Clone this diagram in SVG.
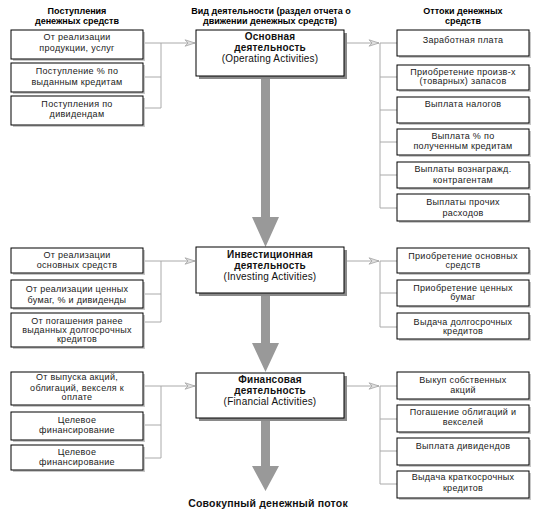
<svg xmlns="http://www.w3.org/2000/svg" width="537" height="512" viewBox="0 0 537 512">
<style>
.t{font-family:"Liberation Sans",Arial,sans-serif;font-size:9px;letter-spacing:0.3px;fill:#1a1a1a;text-anchor:middle}
.h{font-family:"Liberation Sans",Arial,sans-serif;font-size:9px;font-weight:bold;fill:#000;text-anchor:middle}
.c{font-family:"Liberation Sans",Arial,sans-serif;font-size:10px;letter-spacing:0.2px;fill:#111;text-anchor:middle}
.cb{font-weight:bold}
.box{fill:#fff;stroke:#000;stroke-width:1}
.sh{fill:#c8c8c8}
.shc{fill:#8a8a8a}
.conn{stroke:#aaa;stroke-width:1;fill:none}
.big{fill:#999}
</style>
<defs>
<marker id="chev" markerWidth="12" markerHeight="8" refX="11" refY="4" orient="auto" markerUnits="userSpaceOnUse">
<path d="M1,0.8 L11,4 L1,7.2 L4,4 Z" fill="#e0e0e0" stroke="#999" stroke-width="0.7"/>
</marker>
</defs>

<g id="headers">
<text class="h" x="77" y="14">Поступления</text>
<text class="h" x="77" y="24">денежных средств</text>
<text class="h" x="271" y="14">Вид деятельности (раздел отчета о</text>
<text class="h" x="270" y="24">движении денежных средств)</text>
<text class="h" x="463" y="14">Оттоки денежных</text>
<text class="h" x="463" y="24">средств</text>
</g>

<g id="connectors">
<path class="big" d="M261,76 H270 V217 H279 L265.5,247 L252,217 H261 Z"/>
<path class="big" d="M261,293 H270 V343 H279 L265.5,372 L252,343 H261 Z"/>
<path class="big" d="M261,418 H270 V466 H279 L265.5,491 L252,466 H261 Z"/>
<path class="conn" d="M143,43 H161 M143,77 H161 M143,108 H161 M161,43 V108"/>
<path class="conn" d="M161,43 H195" marker-end="url(#chev)"/>
<path class="conn" d="M344,43 H379" marker-end="url(#chev)"/>
<path class="conn" d="M380,43 V208 M380,43 H397 M380,77 H397 M380,110 H397 M380,142 H397 M380,175 H397 M380,208 H397"/>
<path class="conn" d="M143,261 H161 M143,294 H161 M143,322 H161 M161,261 V322"/>
<path class="conn" d="M161,261 H195" marker-end="url(#chev)"/>
<path class="conn" d="M344,261 H379" marker-end="url(#chev)"/>
<path class="conn" d="M380,261 V327 M380,261 H397 M380,293 H397 M380,327 H397"/>
<path class="conn" d="M143,386 H161 M143,425 H161 M143,458 H161 M161,386 V458"/>
<path class="conn" d="M161,386 H195" marker-end="url(#chev)"/>
<path class="conn" d="M344,386 H379" marker-end="url(#chev)"/>
<path class="conn" d="M380,386 V484 M380,386 H397 M380,419 H397 M380,451 H397 M380,484 H397"/>
</g>

<g id="operating">
<rect class="shc" x="199" y="33" width="148" height="46"/>
<rect class="box" x="196" y="30" width="148" height="46"/>
<text class="c cb" x="270" y="40">Основная</text>
<text class="c cb" x="270" y="51">деятельность</text>
<text class="c" x="270" y="62">(Operating Activities)</text>
</g>
<g id="investing">
<rect class="shc" x="199" y="250" width="148" height="46"/>
<rect class="box" x="196" y="247" width="148" height="46"/>
<text class="c cb" x="270" y="258">Инвестиционная</text>
<text class="c cb" x="270" y="269">деятельность</text>
<text class="c" x="270" y="280">(Investing Activities)</text>
</g>
<g id="financing">
<rect class="shc" x="199" y="376" width="148" height="45"/>
<rect class="box" x="196" y="373" width="148" height="45"/>
<text class="c cb" x="270" y="383">Финансовая</text>
<text class="c cb" x="270" y="394">деятельность</text>
<text class="c" x="270" y="405">(Financial Activities)</text>
</g>

<g id="in-op-1"><rect class="sh" x="13" y="32" width="132" height="29"/><rect class="box" x="11" y="30" width="132" height="29"/>
<text class="t" x="77" y="40">От реализации</text><text class="t" x="77" y="51">продукции, услуг</text></g>
<g id="in-op-2"><rect class="sh" x="13" y="65" width="132" height="29"/><rect class="box" x="11" y="63" width="132" height="29"/>
<text class="t" x="77" y="74">Поступление % по</text><text class="t" x="77" y="85">выданным кредитам</text></g>
<g id="in-op-3"><rect class="sh" x="13" y="98" width="132" height="29"/><rect class="box" x="11" y="96" width="132" height="29"/>
<text class="t" x="77" y="107">Поступления по</text><text class="t" x="77" y="117">дивидендам</text></g>

<g id="out-op-1"><rect class="sh" x="399" y="32" width="132" height="26"/><rect class="box" x="397" y="30" width="132" height="26"/>
<text class="t" x="463" y="43">Заработная плата</text></g>
<g id="out-op-2"><rect class="sh" x="399" y="67" width="132" height="25"/><rect class="box" x="397" y="65" width="132" height="25"/>
<text class="t" x="463" y="75">Приобретение произв-х</text><text class="t" x="463" y="84">(товарных) запасов</text></g>
<g id="out-op-3"><rect class="sh" x="399" y="99" width="132" height="26"/><rect class="box" x="397" y="97" width="132" height="26"/>
<text class="t" x="463" y="107">Выплата налогов</text></g>
<g id="out-op-4"><rect class="sh" x="399" y="131" width="132" height="26"/><rect class="box" x="397" y="129" width="132" height="26"/>
<text class="t" x="463" y="139">Выплата % по</text><text class="t" x="463" y="149">полученным кредитам</text></g>
<g id="out-op-5"><rect class="sh" x="399" y="164" width="132" height="26"/><rect class="box" x="397" y="162" width="132" height="26"/>
<text class="t" x="463" y="172">Выплаты вознагражд.</text><text class="t" x="463" y="183">контрагентам</text></g>
<g id="out-op-6"><rect class="sh" x="399" y="196" width="132" height="27"/><rect class="box" x="397" y="194" width="132" height="27"/>
<text class="t" x="463" y="205">Выплаты прочих</text><text class="t" x="463" y="216">расходов</text></g>

<g id="in-inv-1"><rect class="sh" x="13" y="250" width="132" height="25"/><rect class="box" x="11" y="248" width="132" height="25"/>
<text class="t" x="77" y="258">От реализации</text><text class="t" x="77" y="268">основных средств</text></g>
<g id="in-inv-2"><rect class="sh" x="13" y="282" width="132" height="28"/><rect class="box" x="11" y="280" width="132" height="28"/>
<text class="t" x="77" y="292">От реализации ценных</text><text class="t" x="77" y="303">бумаг, % и дивиденды</text></g>
<g id="in-inv-3"><rect class="sh" x="13" y="315" width="132" height="34"/><rect class="box" x="11" y="313" width="132" height="34"/>
<text class="t" x="77" y="324">От погашения ранее</text><text class="t" x="77" y="333">выданных долгосрочных</text><text class="t" x="77" y="342">кредитов</text></g>

<g id="out-inv-1"><rect class="sh" x="399" y="250" width="132" height="25"/><rect class="box" x="397" y="248" width="132" height="25"/>
<text class="t" x="463" y="259">Приобретение основных</text><text class="t" x="463" y="268">средств</text></g>
<g id="out-inv-2"><rect class="sh" x="399" y="282" width="132" height="26"/><rect class="box" x="397" y="280" width="132" height="26"/>
<text class="t" x="463" y="291">Приобретение ценных</text><text class="t" x="463" y="300">бумаг</text></g>
<g id="out-inv-3"><rect class="sh" x="399" y="315" width="132" height="26"/><rect class="box" x="397" y="313" width="132" height="26"/>
<text class="t" x="463" y="325">Выдача долгосрочных</text><text class="t" x="463" y="334">кредитов</text></g>

<g id="in-fin-1"><rect class="sh" x="13" y="374" width="132" height="33"/><rect class="box" x="11" y="372" width="132" height="33"/>
<text class="t" x="77" y="380">От выпуска акций,</text><text class="t" x="77" y="391">облигаций, векселя к</text><text class="t" x="77" y="400">оплате</text></g>
<g id="in-fin-2"><rect class="sh" x="13" y="414" width="132" height="28"/><rect class="box" x="11" y="412" width="132" height="28"/>
<text class="t" x="77" y="423">Целевое</text><text class="t" x="77" y="433">финансирование</text></g>
<g id="in-fin-3"><rect class="sh" x="13" y="447" width="132" height="25"/><rect class="box" x="11" y="445" width="132" height="25"/>
<text class="t" x="77" y="455">Целевое</text><text class="t" x="77" y="465">финансирование</text></g>

<g id="out-fin-1"><rect class="sh" x="399" y="374" width="132" height="27"/><rect class="box" x="397" y="372" width="132" height="27"/>
<text class="t" x="463" y="383">Выкуп собственных</text><text class="t" x="463" y="393">акций</text></g>
<g id="out-fin-2"><rect class="sh" x="399" y="407" width="132" height="27"/><rect class="box" x="397" y="405" width="132" height="27"/>
<text class="t" x="463" y="415">Погашение облигаций и</text><text class="t" x="463" y="425">векселей</text></g>
<g id="out-fin-3"><rect class="sh" x="399" y="440" width="132" height="27"/><rect class="box" x="397" y="438" width="132" height="27"/>
<text class="t" x="463" y="449">Выплата дивидендов</text></g>
<g id="out-fin-4"><rect class="sh" x="399" y="473" width="132" height="27"/><rect class="box" x="397" y="471" width="132" height="27"/>
<text class="t" x="463" y="480">Выдача краткосрочных</text><text class="t" x="463" y="491">кредитов</text></g>

<g id="total">
<text class="c cb" x="268" y="507" style="font-size:10.5px">Совокупный денежный поток</text>
</g>
</svg>
